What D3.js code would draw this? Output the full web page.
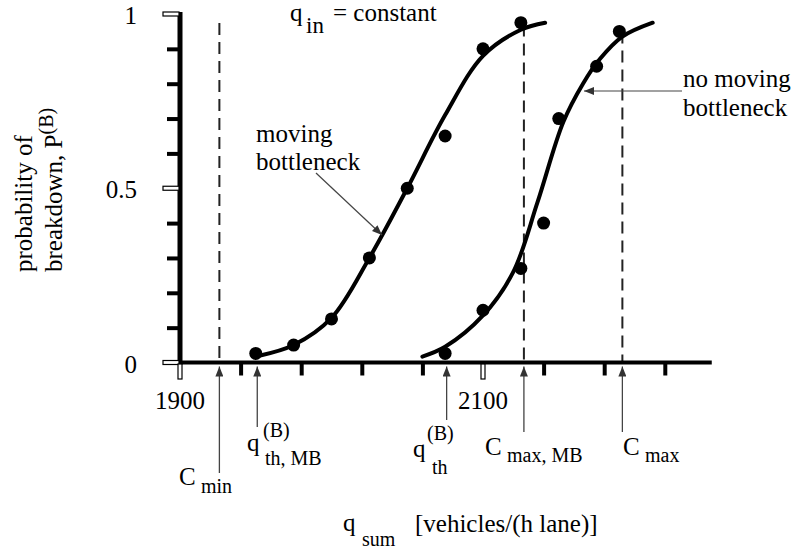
<!DOCTYPE html>
<html><head><meta charset="utf-8">
<script src="https://cdn.jsdelivr.net/npm/d3@7"></script>
<style>
svg text { font-family: "Liberation Serif", "Times New Roman", serif !important; }
</style>
</head><body style="margin:0"><svg id="c" width="795" height="550" font-family="Liberation Serif" style="font-family:'Liberation Serif', serif"></svg>
<script>
// ---- data ----
const mbFlow = [1950,1975,2000,2025,2050,2075,2100,2125];
const mbProb = [0.026,0.05,0.125,0.30,0.50,0.65,0.90,0.975];
const noMbFlow = [2075,2100,2125,2140,2150,2175,2190];
const noMbProb = [0.026,0.15,0.27,0.40,0.70,0.85,0.95];
const mbFitFlow = [1953,1975,2000,2025,2050,2075,2100,2125,2141];
const mbFitProb = [0.02,0.05,0.128,0.30,0.50,0.71,0.88,0.955,0.975];
const noMbFitFlow = [2060,2075,2100,2120,2136,2153,2166,2177,2192,2212];
const noMbFitProb = [0.017,0.045,0.135,0.26,0.46,0.69,0.80,0.87,0.935,0.975];
const xMajorTicks = [1900,2100];
const xMajorLabels = ["1900","2100"];
const xMinorTicks = [1940,1980,2020,2060,2140,2180,2220];
const yMajorTicks = [0,0.5,1];
const yMajorLabels = ["0","0.5","1"];
const yMinorTicks = [0.1,0.2,0.3,0.4,0.6,0.7,0.8,0.9];
const markerFlow = [1926,1951,2076,2127,2192];   // C_min, q_th,MB, q_th, C_max,MB, C_max
const dashedFlow = [1926,2127,2192];
const dashedTop = [0.974,0.97,0.95];

const svg = d3.select("#c");
const x = d3.scaleLinear().domain([1900,2100]).range([180,483]);
const y = d3.scaleLinear().domain([0,1]).range([362.5,14]);

function t(xp,yp,s,size,anchor){
  return svg.append("text").attr("x",xp).attr("y",yp).attr("font-size",size||25)
    .attr("font-family","Liberation Serif")
    .style("font-family","Liberation Serif")
    .attr("text-anchor",anchor||"start").text(s);
}

yMajorTicks.forEach((v,i)=>{ t(137,y(v)+10,yMajorLabels[i],25,"end"); });
xMajorTicks.forEach((v,i)=>{ t(x(v),409,xMajorLabels[i],25,"middle"); });
t(179,485,"C"); t(201,493,"min",20);
t(247,451,"q"); t(263,437,"(B)",20); t(265,465,"th, MB",20);
t(413,457,"q"); t(427,440,"(B)",20); t(432,474,"th",20);
t(485,455,"C"); t(507,462,"max, MB",20);
t(623,455,"C"); t(645,462,"max",20);
t(343,531,"q"); t(362,546,"sum",20); t(415,532,"[vehicles/(h lane)]");
t(290,21,"q"); t(306,33,"in",23); t(333,21,"= constant");
t(256,142,"moving"); t(256,170,"bottleneck");
t(683,87,"no moving"); t(683,116,"bottleneck");
const yt = svg.append("g").attr("transform","translate(32,272) rotate(-90)");
yt.append("text").attr("x",0).attr("y",0).attr("font-size",25).attr("font-family","Liberation Serif")
  .style("font-family","Liberation Serif").text("probability of");
const yt2 = yt.append("text").attr("x",0).attr("y",30).attr("font-size",25).attr("font-family","Liberation Serif")
  .style("font-family","Liberation Serif");
yt2.append("tspan").text("breakdown, P");
yt2.append("tspan").attr("dy",-9).attr("font-size",20).text("(B)");

const defs = svg.append("defs");
defs.append("marker").attr("id","ah").attr("viewBox","0 0 10 8").attr("refX",10).attr("refY",4)
  .attr("markerWidth",11).attr("markerHeight",8).attr("markerUnits","userSpaceOnUse").attr("orient","auto")
  .append("path").attr("d","M0,0 L10,4 L0,8 Z").attr("fill","#333");

dashedFlow.forEach((f,i)=>{
  svg.append("line").attr("x1",x(f)).attr("x2",x(f)).attr("y1",y(dashedTop[i])).attr("y2",y(0))
    .attr("stroke","#222").attr("stroke-width",2).attr("stroke-dasharray","12,7");
});

const yAx = svg.append("g").attr("transform","translate(180,0)")
  .call(d3.axisLeft(y).tickValues(yMinorTicks).tickSize(13).tickFormat(""));
yAx.select(".domain").remove();
yAx.selectAll(".tick line").attr("stroke","#000").attr("stroke-width",4);
const xAx = svg.append("g").attr("transform","translate(0,"+y(0)+")")
  .call(d3.axisBottom(x).tickValues(xMinorTicks).tickSize(13).tickFormat(""));
xAx.select(".domain").remove();
xAx.selectAll(".tick line").attr("stroke","#000").attr("stroke-width",4);

svg.append("line").attr("x1",180).attr("x2",180).attr("y1",y(1)-2).attr("y2",y(0)+2)
  .attr("stroke","#000").attr("stroke-width",5);
svg.append("line").attr("x1",180).attr("x2",x(2251)).attr("y1",y(0)).attr("y2",y(0))
  .attr("stroke","#000").attr("stroke-width",4);

yMajorTicks.forEach(v=>{
  svg.append("rect").attr("x",163).attr("y",y(v)-2).attr("width",16).attr("height",4)
    .attr("fill","#fff").attr("stroke","#000").attr("stroke-width",1.2);
});
xMajorTicks.forEach(v=>{
  svg.append("rect").attr("x",x(v)-2).attr("y",y(0)+1.5).attr("width",4).attr("height",15)
    .attr("fill","#fff").attr("stroke","#000").attr("stroke-width",1.2);
});

const line = d3.line().x(d=>x(d[0])).y(d=>y(d[1])).curve(d3.curveCatmullRom);
svg.append("path").datum(mbFitFlow.map((f,i)=>[f,mbFitProb[i]])).attr("d",line)
  .attr("fill","none").attr("stroke","#000").attr("stroke-width",4).attr("stroke-linecap","round");
svg.append("path").datum(noMbFitFlow.map((f,i)=>[f,noMbFitProb[i]])).attr("d",line)
  .attr("fill","none").attr("stroke","#000").attr("stroke-width",4).attr("stroke-linecap","round");

svg.selectAll(".mb").data(mbFlow.map((f,i)=>[f,mbProb[i]])).enter().append("circle")
  .attr("cx",d=>x(d[0])).attr("cy",d=>y(d[1])).attr("r",6.5).attr("fill","#000");
svg.selectAll(".nomb").data(noMbFlow.map((f,i)=>[f,noMbProb[i]])).enter().append("circle")
  .attr("cx",d=>x(d[0])).attr("cy",d=>y(d[1])).attr("r",6.5).attr("fill","#000");

const arrowBottom = [473,427,420,432,432];
markerFlow.forEach((f,i)=>{
  svg.append("line").attr("x1",x(f)).attr("x2",x(f)).attr("y1",arrowBottom[i]).attr("y2",y(0)+4)
    .attr("stroke","#444").attr("stroke-width",1.3).attr("marker-end","url(#ah)");
});
svg.append("line").attr("x1",316).attr("y1",173).attr("x2",382).attr("y2",235)
  .attr("stroke","#444").attr("stroke-width",1.2).attr("marker-end","url(#ah)");
svg.append("line").attr("x1",682).attr("y1",91).attr("x2",584).attr("y2",91)
  .attr("stroke","#444").attr("stroke-width",1.2).attr("marker-end","url(#ah)");
</script>
</body></html>
